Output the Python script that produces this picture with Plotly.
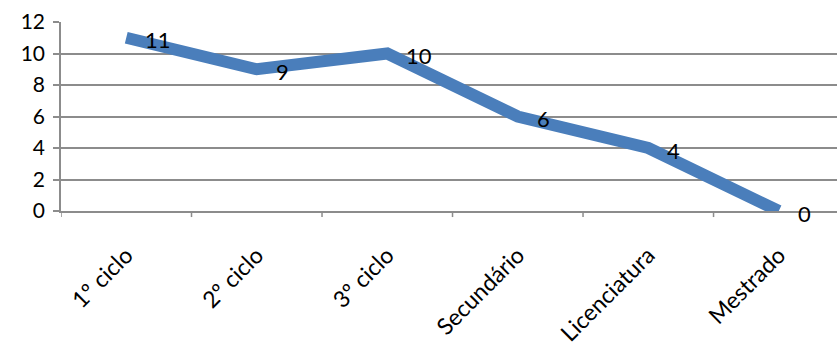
import plotly.graph_objects as go

categories = ["1º ciclo", "2º ciclo", "3º ciclo", "Secundário", "Licenciatura", "Mestrado"]
values = [11, 9, 10, 6, 4, 0]
y_ticks = [0, 2, 4, 6, 8, 10, 12]

line_color = "#4a7ebb"
grid_color = "#8c8c8c"
font_family = "Lato, 'Open Sans', sans-serif"

fig = go.Figure()
fig.add_trace(go.Scatter(
    x=list(range(len(categories))),
    y=values,
    mode="lines",
    line=dict(color=line_color, width=12),
    hoverinfo="skip",
    cliponaxis=False,
))

# value labels placed to the right of each point
for i, v in enumerate(values):
    fig.add_annotation(
        x=i, y=v, text=str(v), showarrow=False,
        xanchor="left", yanchor="middle", xshift=17, yshift=-2,
        font=dict(family=font_family, size=22, color="#000000"),
    )

fig.update_layout(
    width=837, height=345,
    margin=dict(l=61, r=0, t=22, b=134),
    paper_bgcolor="white", plot_bgcolor="white",
    showlegend=False,
    font=dict(family=font_family, color="#000000"),
)

fig.update_xaxes(
    range=[-0.5, 5.446],
    tickmode="array",
    tickvals=list(range(len(categories))),
    ticktext=categories,
    tickangle=-45,
    tickfont=dict(size=23, family=font_family),
    showgrid=False,
    zeroline=False,
    showline=True, linecolor=grid_color, linewidth=1.5,
    ticks="",
    ticklabelstandoff=20,
)

# boundary tick marks below the category axis
for b in range(len(categories)):
    fig.add_shape(
        type="line", xref="x", yref="paper",
        x0=b - 0.5, x1=b - 0.5, y0=0, y1=-0.032,
        line=dict(color=grid_color, width=1.5),
    )

fig.update_yaxes(
    range=[0, 12],
    tickmode="array",
    tickvals=y_ticks,
    tickfont=dict(size=21, family=font_family),
    showgrid=True, gridcolor=grid_color, gridwidth=1.5,
    zeroline=False,
    showline=True, linecolor=grid_color, linewidth=1.5,
    ticks="outside", ticklen=6, tickcolor=grid_color, tickwidth=1.5,
    ticklabelstandoff=4,
)

fig.write_html("out.html")
